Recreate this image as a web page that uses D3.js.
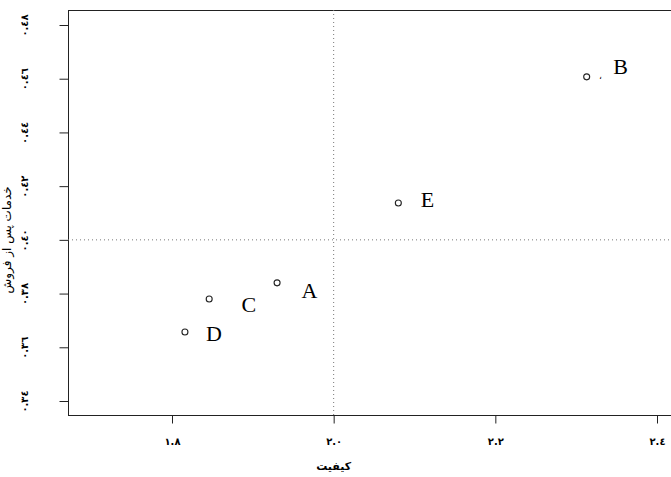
<!doctype html>
<html>
<head>
<meta charset="utf-8">
<script src="https://d3js.org/d3.v7.min.js"></script>
<style>
  body { margin: 0; background: white; }
  .lbl { font-family: "Liberation Serif", serif; font-size: 22px; }
  .tick text { font-family: "DejaVu Sans", sans-serif; font-size: 10px; font-weight: bold; }
  .ttl { font-family: "DejaVu Sans", sans-serif; font-size: 11px; font-weight: bold; }
</style>
</head>
<body>
<svg id="chart" width="671" height="477"></svg>
<script>
// data
var names = ["A", "B", "C", "D", "E"];
var quality = [1.930, 2.313, 1.846, 1.816, 2.080];
var service = [0.384, 0.4607, 0.378, 0.3657, 0.4137];
// where the letters sit, in data units
var labelX = [1.970, 2.355, 1.895, 1.852, 2.116];
var labelY = [0.3813, 0.4644, 0.3761, 0.3653, 0.4149];
var xTicks = [1.8, 2.0, 2.2, 2.4];
var yTicks = [0.34, 0.36, 0.38, 0.40, 0.42, 0.44, 0.46, 0.48];
var xRef = 2.0, yRef = 0.40;

var svg = d3.select("#chart");
var boxL = 68, boxR = 700, boxT = 10, boxB = 415;

var x = d3.scaleLinear().domain([1.8, 2.4]).range([172, 657]);
var y = d3.scaleLinear().domain([0.34, 0.48]).range([401, 25]);

// persian digits
var fa = "٠١٢٣٤٥٦٧٨٩";
function toFa(s) { return s.replace(/[0-9]/g, function(c) { return fa[+c]; }); }

// box
svg.append("rect")
   .attr("x", boxL + 0.5).attr("y", boxT + 0.5)
   .attr("width", boxR - boxL).attr("height", boxB - boxT)
   .attr("fill", "none").attr("stroke", "#222").attr("stroke-width", 1);

// reference lines
svg.append("line")
   .attr("x1", x(xRef)).attr("x2", x(xRef))
   .attr("y1", boxT).attr("y2", boxB)
   .attr("stroke", "#777").attr("stroke-dasharray", "1,3");
svg.append("line")
   .attr("x1", boxL).attr("x2", 671)
   .attr("y1", y(yRef)).attr("y2", y(yRef))
   .attr("stroke", "#777").attr("stroke-dasharray", "1,3");

var gx = svg.append("g")
   .attr("transform", "translate(0," + (boxB + 0.5) + ")")
   .call(d3.axisBottom(x).tickValues(xTicks).tickSize(8).tickPadding(14)
         .tickFormat(function(d) { return toFa(d.toFixed(1)); }));
gx.select(".domain").remove();
gx.selectAll("line").attr("stroke", "#222");

var gy = svg.append("g")
   .attr("transform", "translate(" + (boxL + 0.5) + ",0)")
   .call(d3.axisLeft(y).tickValues(yTicks).tickSize(9)
         .tickFormat(function(d) { return toFa(d.toFixed(2)); }));
gy.select(".domain").remove();
gy.selectAll("line").attr("stroke", "#222");
gy.selectAll("text")
  .attr("x", null).attr("dy", null)
  .attr("text-anchor", "middle")
  .attr("dominant-baseline", "central")
  .attr("transform", "translate(-44,0) rotate(-90)");

// axis titles
svg.append("text").attr("class", "ttl")
   .attr("x", x(2.0)).attr("y", 470)
   .attr("text-anchor", "middle")
   .text("کیفیت");
svg.append("text").attr("class", "ttl")
   .attr("transform", "translate(7," + y(0.40) + ") rotate(-90)")
   .attr("text-anchor", "middle")
   .attr("dominant-baseline", "central")
   .style("font-size", "12px")
   .style("font-weight", "normal")
   .text("خدمات پس از فروش");

// points
svg.selectAll(".pt")
   .data(names)
   .enter().append("circle")
   .attr("class", "pt")
   .attr("cx", function(d, i) { return x(quality[i]); })
   .attr("cy", function(d, i) { return y(service[i]); })
   .attr("r", 3)
   .attr("fill", "none")
   .attr("stroke", "#222")
   .attr("stroke-width", 1.1);

svg.selectAll(".lbl")
   .data(names)
   .enter().append("text")
   .attr("class", "lbl")
   .attr("x", function(d, i) { return x(labelX[i]); })
   .attr("y", function(d, i) { return y(labelY[i]); })
   .attr("text-anchor", "middle")
   .attr("dominant-baseline", "central")
   .text(function(d) { return d; });

// small mark next to B
svg.append("text")
   .attr("x", x(2.33)).attr("y", y(service[1]) + 2)
   .attr("font-size", "9px")
   .attr("font-family", "DejaVu Sans")
   .attr("text-anchor", "middle")
   .text("،");
</script>
</body>
</html>
